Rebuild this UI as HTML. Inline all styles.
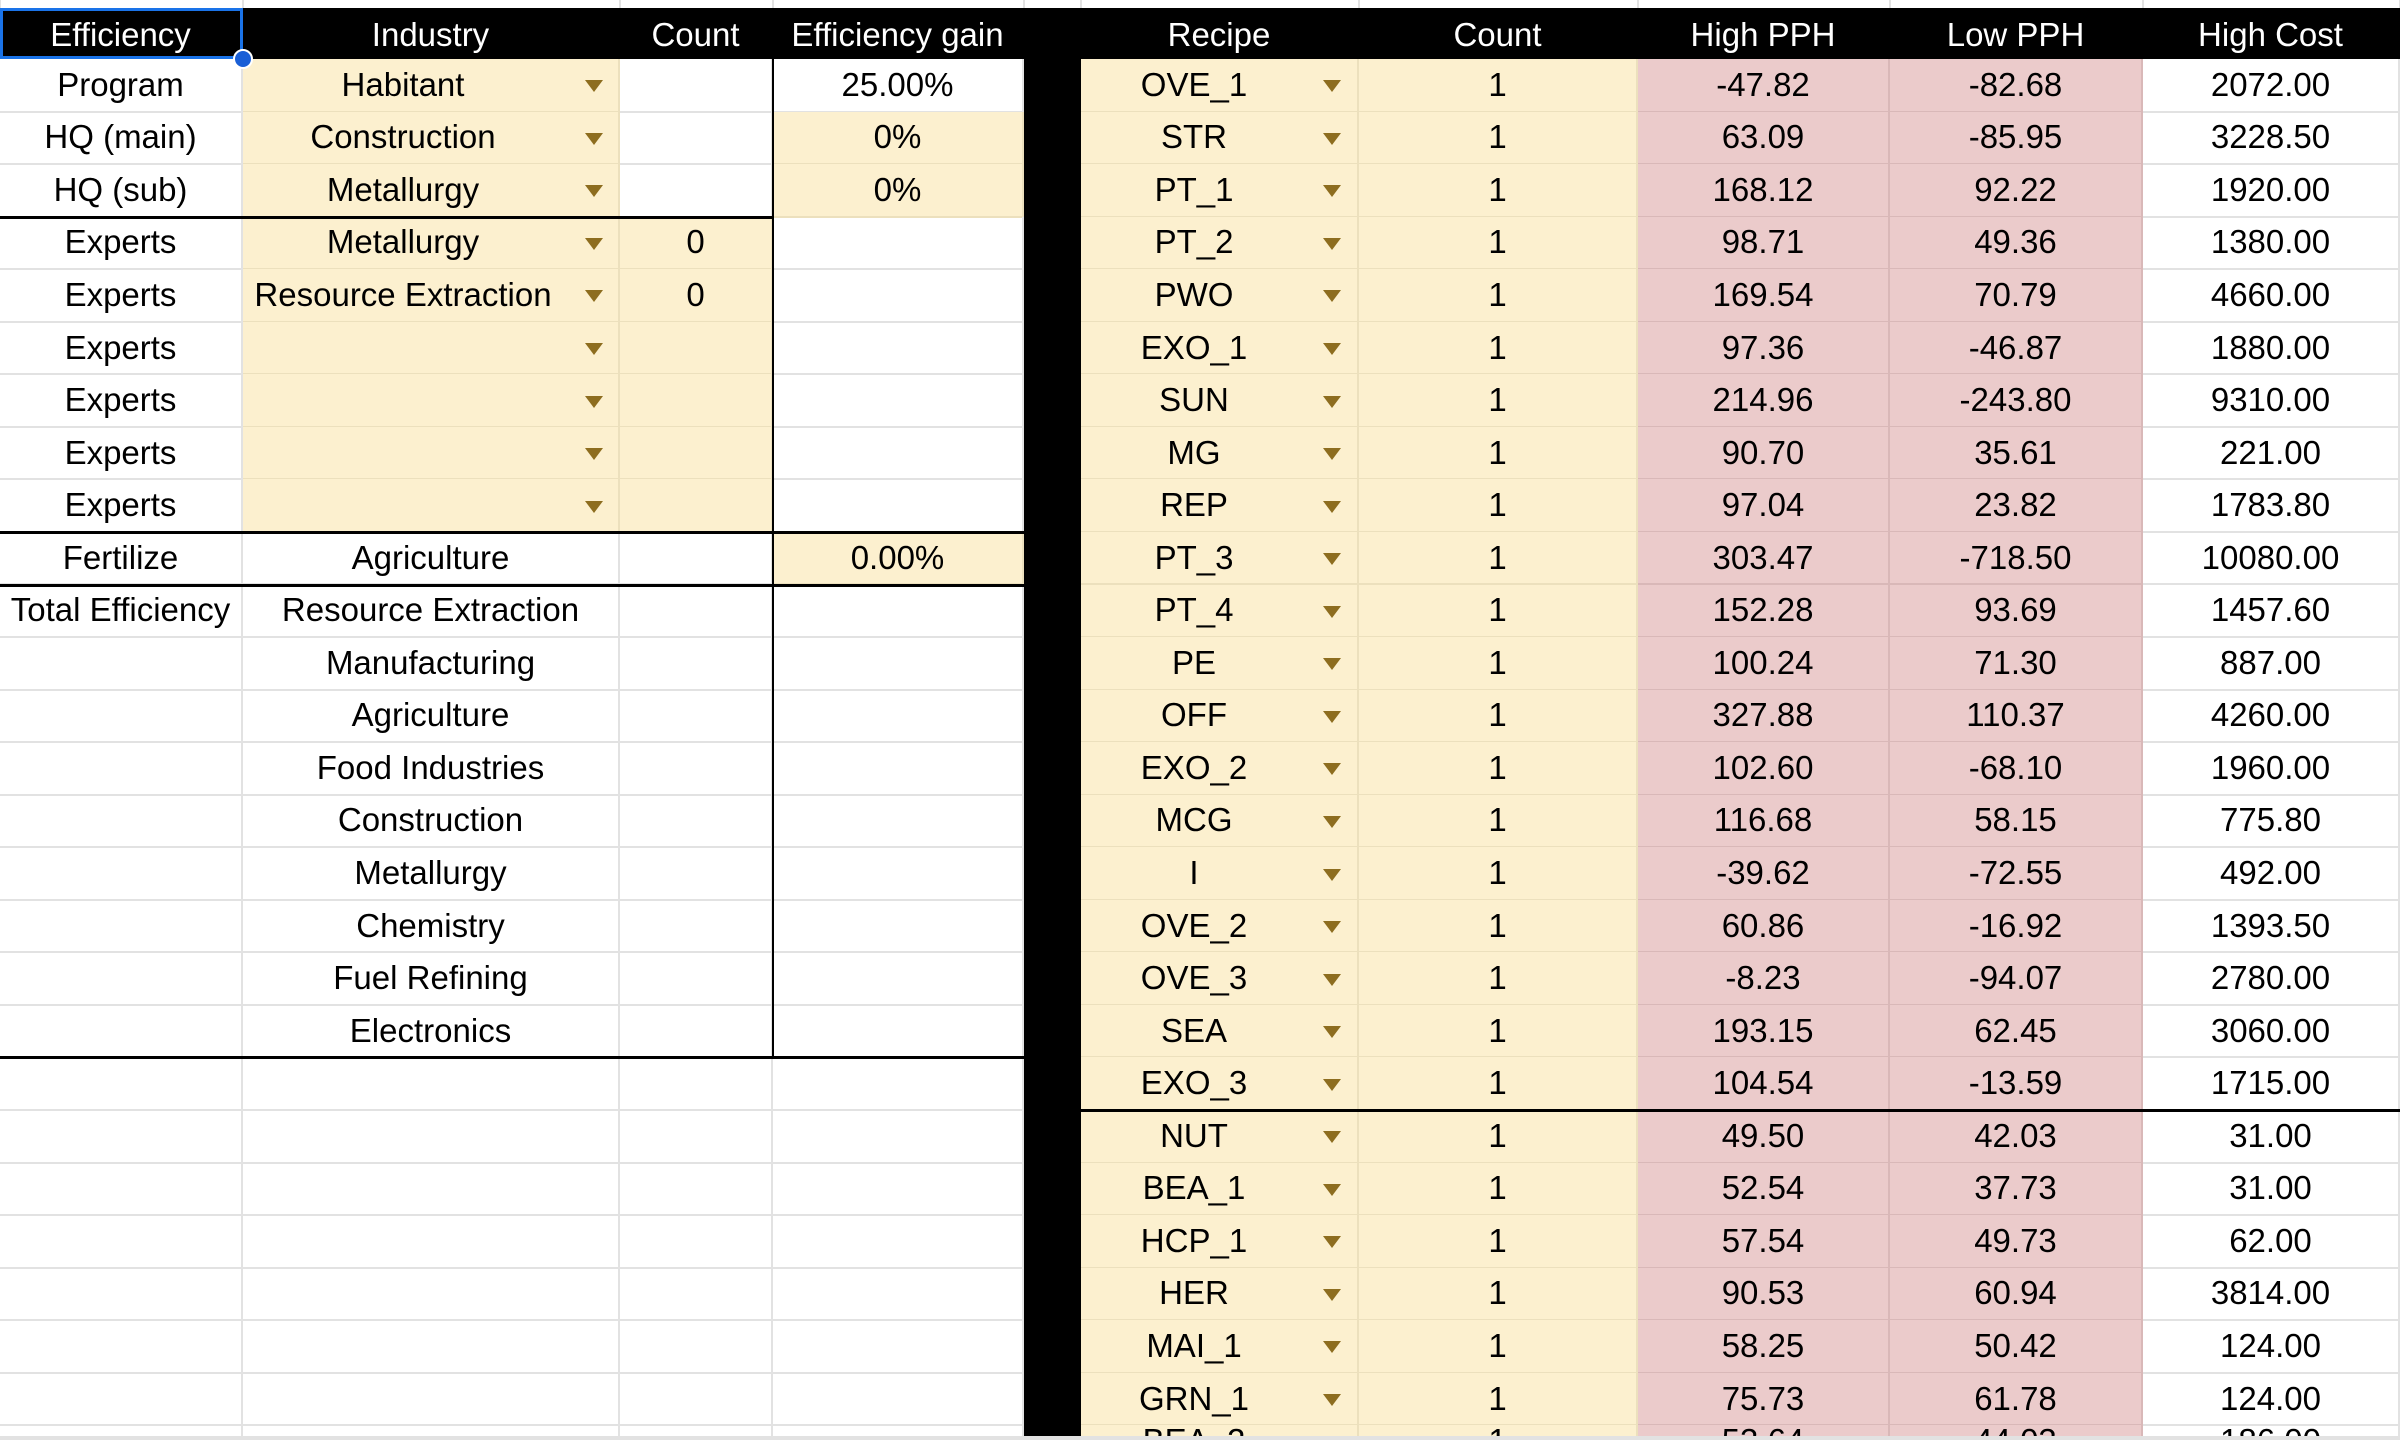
<!DOCTYPE html>
<html><head><meta charset="utf-8">
<style>
html,body{margin:0;padding:0;width:2400px;height:1440px;overflow:hidden;}
body{background:#fff;font-family:"Liberation Sans",Arial,sans-serif;}
#sheet{position:relative;width:2400px;height:1440px;overflow:hidden;}
.c{position:absolute;box-sizing:border-box;display:flex;align-items:center;justify-content:center;font-size:33px;color:#000;white-space:nowrap;overflow:hidden;border-right:2px solid #e2e2e2;border-bottom:2px solid #e2e2e2;}
.h{background:#000;color:#fff;border-color:#000;padding-top:4px;}
.y{background:#fcf0cf;border-right-color:#ece0bd;border-bottom-color:#ece0bd;}
.p{background:#ebcbcb;border-right-color:#d9b8b8;border-bottom-color:#d9b8b8;}
.arr{position:absolute;width:0;height:0;border-left:9px solid transparent;border-right:9px solid transparent;border-top:12px solid #8d6d1f;}
.ln{position:absolute;background:#000;}
</style></head><body>
<div id="sheet"></div>
<script>
const ROW_TOP = 59, ROW_H = 52.55, HEAD_TOP = 8;
const leftHeaders = ["Efficiency","Industry","Count","Efficiency gain"];
const rightHeaders = ["Recipe","Count","High PPH","Low PPH","High Cost"];
const leftColA = ["Program","HQ (main)","HQ (sub)","Experts","Experts","Experts","Experts","Experts","Experts","Fertilize","Total Efficiency"];
const leftColB = ["Habitant","Construction","Metallurgy","Metallurgy","Resource Extraction","","","","","Agriculture","Resource Extraction","Manufacturing","Agriculture","Food Industries","Construction","Metallurgy","Chemistry","Fuel Refining","Electronics"];
const leftColC = ["","","","0","0","","","","","",""];
const leftColD = ["25.00%","0%","0%","","","","","","","0.00%"];
const recipes = ["OVE_1","STR","PT_1","PT_2","PWO","EXO_1","SUN","MG","REP","PT_3","PT_4","PE","OFF","EXO_2","MCG","I","OVE_2","OVE_3","SEA","EXO_3","NUT","BEA_1","HCP_1","HER","MAI_1","GRN_1","BEA_2"];
const counts = [1,1,1,1,1,1,1,1,1,1,1,1,1,1,1,1,1,1,1,1,1,1,1,1,1,1,1];
const highPPH = ["-47.82","63.09","168.12","98.71","169.54","97.36","214.96","90.70","97.04","303.47","152.28","100.24","327.88","102.60","116.68","-39.62","60.86","-8.23","193.15","104.54","49.50","52.54","57.54","90.53","58.25","75.73","53.64"];
const lowPPH = ["-82.68","-85.95","92.22","49.36","70.79","-46.87","-243.80","35.61","23.82","-718.50","93.69","71.30","110.37","-68.10","58.15","-72.55","-16.92","-94.07","62.45","-13.59","42.03","37.73","49.73","60.94","50.42","61.78","44.03"];
const highCost = ["2072.00","3228.50","1920.00","1380.00","4660.00","1880.00","9310.00","221.00","1783.80","10080.00","1457.60","887.00","4260.00","1960.00","775.80","492.00","1393.50","2780.00","3060.00","1715.00","31.00","31.00","62.00","3814.00","124.00","124.00","186.00"];

const LX = [0,243,620,773,1024];
const RX = [1081,1359,1638,1890,2143,2400];
const NROWS = 27;
const root = document.getElementById('sheet');
function cell(x,y,w,h,txt,cls,name,inter){
  const d=document.createElement('div');
  d.className='c '+(cls||'');
  d.style.left=x+'px';d.style.top=y+'px';d.style.width=w+'px';d.style.height=h+'px';
  d.textContent=txt;
  
  
  root.appendChild(d);return d;
}
function arrow(x,y){
  const a=document.createElement('div');a.className='arr';
  a.style.left=(x-9)+'px';a.style.top=(y-5)+'px';
  
  
  root.appendChild(a);
}
function line(x,y,w,h){
  const l=document.createElement('div');l.className='ln';
  l.style.left=x+'px';l.style.top=y+'px';l.style.width=w+'px';l.style.height=h+'px';
  
  
  root.appendChild(l);
}
for(const x of LX.concat(RX)){ const g=document.createElement('div');g.style.cssText='position:absolute;top:0;height:8px;width:2px;background:#e2e2e2;left:'+(x-1)+'px';root.appendChild(g);}
cell(0,HEAD_TOP,2400,ROW_TOP-HEAD_TOP,'','h','header-bar',false);
leftHeaders.forEach((t,i)=>cell(LX[i],HEAD_TOP,LX[i+1]-LX[i],ROW_TOP-HEAD_TOP,t,'h','header-'+t.toLowerCase().replace(/ /g,'-'),true));
rightHeaders.forEach((t,i)=>cell(RX[i],HEAD_TOP,RX[i+1]-RX[i],ROW_TOP-HEAD_TOP,t,'h','header-'+t.toLowerCase().replace(/ /g,'-'),true));
cell(1024,ROW_TOP,57,1440-ROW_TOP,'','h','separator-column',false);
for(let r=0;r<NROWS;r++){
  const y=ROW_TOP+r*ROW_H, h=ROW_H+1;
  const a=leftColA[r]||'';
  cell(LX[0],y,LX[1]-LX[0],h,a,'','label-cell',true);
  const bYellow=r<9;
  cell(LX[1],y,LX[2]-LX[1],h,leftColB[r]||'',bYellow?'y':'','industry-cell',true).style.paddingRight=bYellow?'55px':'0';
  if(bYellow) arrow(594,y+ROW_H/2);
  cell(LX[2],y,LX[3]-LX[2],h,leftColC[r]||'',(r>=3&&r<9)?'y':'','count-cell',true);
  cell(LX[3],y,LX[4]-LX[3],h,leftColD[r]||'',(r==1||r==2||r==9)?'y':'','efficiency-gain-cell',true);
}
for(let r=0;r<NROWS;r++){
  const y=ROW_TOP+r*ROW_H, h=(r==NROWS-1)?34:ROW_H+1;
  cell(RX[0],y,RX[1]-RX[0],h,recipes[r],'y','recipe-'+recipes[r].toLowerCase(),true).style.paddingRight='50px';
  arrow(1332,y+ROW_H/2);
  cell(RX[1],y,RX[2]-RX[1],h,String(counts[r]),'y','recipe-count',true);
  cell(RX[2],y,RX[3]-RX[2],h,highPPH[r],'p','high-pph',false);
  cell(RX[3],y,RX[4]-RX[3],h,lowPPH[r],'p','low-pph',false);
  cell(RX[4],y,RX[5]-RX[4],h,highCost[r],'','high-cost',false);
}
const ry=r=>Math.round(ROW_TOP+r*ROW_H)-1;
line(0,ry(3),773,3);
line(0,ry(9),1024,3);
line(0,ry(10),1024,3);
line(0,ry(19),1024,3);
line(772,ROW_TOP,2,ry(19)-ROW_TOP);
line(1081,ry(20),1319,3);
const bot=document.createElement('div');
bot.style.cssText='position:absolute;left:0;top:1436px;width:2400px;height:4px;background:#e2e2e2;';


root.appendChild(bot);
const s=document.createElement('div');
s.style.cssText='position:absolute;left:0;top:'+HEAD_TOP+'px;width:243px;height:'+(ROW_TOP-HEAD_TOP)+'px;box-sizing:border-box;border:3px solid #1a73e8;';


root.appendChild(s);
const dot=document.createElement('div');
dot.style.cssText='position:absolute;left:233px;top:'+(ROW_TOP-10)+'px;width:20px;height:20px;border-radius:50%;background:#1a5fd6;border:2px solid #fff;box-sizing:border-box;';


root.appendChild(dot);
</script>
</body></html>
